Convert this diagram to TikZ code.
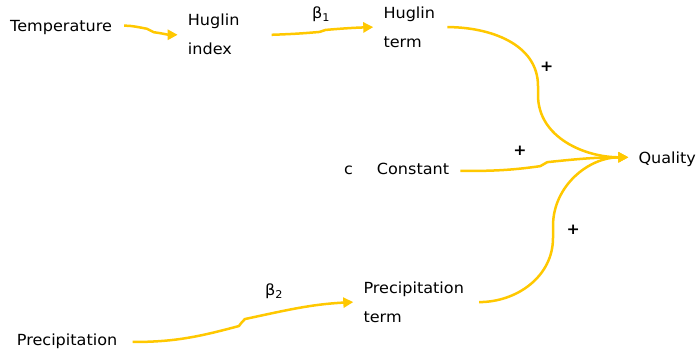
\documentclass[tikz,border=0pt]{standalone}
\usepackage{fontspec}
\setmainfont{DejaVu Sans}[FakeStretch=1.05]
\usetikzlibrary{arrows.meta,calc}
\definecolor{gold}{RGB}{255,200,0}
\begin{document}
\begin{tikzpicture}[x=1pt,y=1pt,
  lbl/.style={inner sep=0pt, font=\fontsize{15.3}{29}\selectfont, text=black},
  one/.style={lbl, anchor=base west, text height=11pt, text depth=3pt},
  two/.style={lbl, anchor=west, align=left},
  conn/.style={draw=gold, line width=2.5pt, line join=round, -{Triangle[length=10pt,width=10pt]}},
  sign/.style={inner sep=0pt, font=\fontsize{15}{18}\selectfont\bfseries},
]
\useasboundingbox (0,0) rectangle (699,352);
% nodes
\node[one] (T) at (10,320.3) {Temperature};
\node[two] (HI) at (187.7,317.2) {Huglin\\index};
\node[two] (HT) at (383.3,324.9) {Huglin\\term};
\node[one] (b1) at (312,333) {β\textsubscript{1}};
\node[one] (c) at (344,177) {c};
\node[one] (C) at (376.7,177) {Constant};
\node[one] (Q) at (638.3,188.7) {Quality};
\node[two] (PT) at (363.3,49.9) {Precipitation\\term};
\node[one] (b2) at (265,56) {β\textsubscript{2}};
\node[one] (P) at (16.7,6) {Precipitation};
\node[sign] (s1) at (546.7,285.3) {+};
\node[sign] (s2) at (520,201) {+};
\node[sign] (s3) at (573.3,122) {+};
% connector points
\coordinate (t-out) at ([xshift=12pt,yshift=2pt]T.east);
\coordinate (hi-in) at ([xshift=-10pt]HI.west);
\coordinate (hi-out) at ([xshift=32pt]HI.east);
\coordinate (ht-in) at ([xshift=-10pt]HT.west);
\coordinate (ht-out) at ([xshift=12pt]HT.east);
\coordinate (c-out) at ([xshift=11pt]C.east);
\coordinate (q-in) at ([xshift=-10pt,yshift=2pt]Q.west);
\coordinate (pt-in) at ([xshift=-10pt]PT.west);
\coordinate (pt-out) at ([xshift=15pt]PT.east);
\coordinate (p-out) at ([xshift=15pt]P.east);
\coordinate (v1a) at (538,266);
\coordinate (v1b) at (538,257);
\coordinate (v2a) at (553,114);
\coordinate (v2b) at (553,126);
% kink points of the S-shaped connectors
\coordinate (k1a) at ($(t-out)!0.5!(hi-in)+(-4,1.5)$);
\coordinate (k1b) at ($(t-out)!0.5!(hi-in)+(3,-2)$);
\coordinate (k2a) at ($(hi-out)!0.5!(ht-in)+(-3,-1)$);
\coordinate (k2b) at ($(hi-out)!0.5!(ht-in)+(3,1)$);
\coordinate (k4a) at ($(c-out)!0.5!(q-in)+(-4,-2)$);
\coordinate (k4b) at ($(c-out)!0.5!(q-in)+(3,2)$);
\coordinate (k6a) at ($(p-out)!0.5!(pt-in)+(-4,-4)$);
\coordinate (k6b) at ($(p-out)!0.5!(pt-in)+(2,3)$);
% connectors
\draw[conn] (t-out) to[out=0,in=170] (k1a) to[out=-40,in=140] (k1b) to[out=-8,in=180] (hi-in);
\draw[conn] (hi-out) to[out=2,in=185] (k2a) to[out=30,in=210] (k2b) to[out=5,in=182] (ht-in);
\draw[conn] (ht-out) to[out=0,in=90] (v1a) -- (v1b) to[out=-90,in=180] (q-in);
\draw[conn] (c-out) to[out=0,in=188] (k4a) to[out=40,in=220] (k4b) to[out=6,in=180] (q-in);
\draw[conn] (pt-out) to[out=0,in=-90] (v2a) -- (v2b) to[out=90,in=180] (q-in);
\draw[conn] (p-out) to[out=0,in=195] (k6a) to[out=60,in=230] (k6b) to[out=12,in=183] (pt-in);
\end{tikzpicture}
\end{document}
